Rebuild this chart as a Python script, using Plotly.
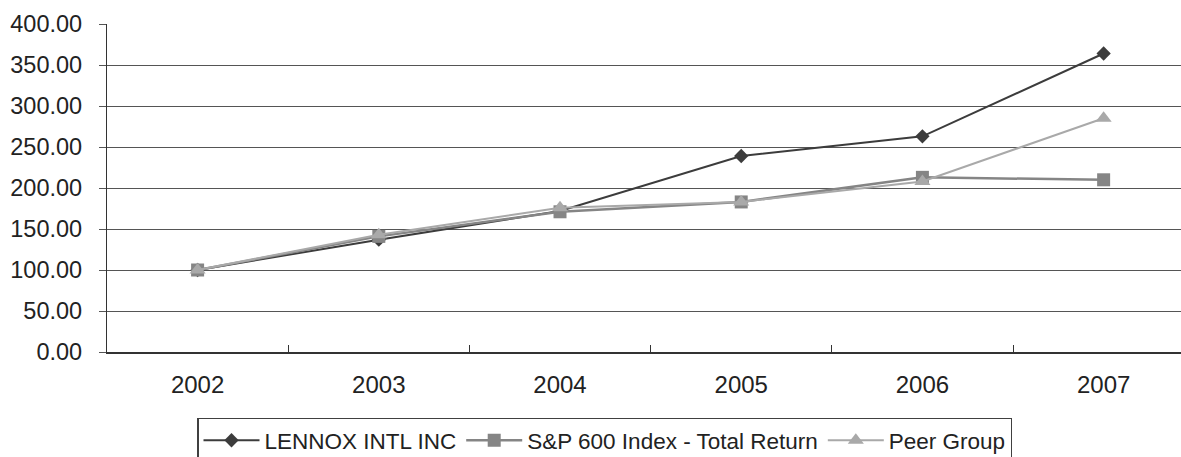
import plotly.graph_objects as go

# Cumulative total return, indexed to 100 in 2002
years = ["2002", "2003", "2004", "2005", "2006", "2007"]
lennox = [100.0, 137.0, 172.0, 239.0, 263.0, 364.0]
sp600 = [100.0, 141.0, 171.0, 183.0, 213.0, 210.0]
peer_group = [100.0, 143.0, 176.0, 183.0, 208.0, 285.0]

y_ticks = [0, 50, 100, 150, 200, 250, 300, 350, 400]

FONT = "Liberation Sans, Arial, sans-serif"

fig = go.Figure()

fig.add_trace(go.Scatter(
    x=years, y=lennox, name="LENNOX INTL INC", mode="lines+markers",
    line=dict(color="#3c3c3c", width=2),
    marker=dict(symbol="diamond", size=11, color="#3c3c3c"),
))
fig.add_trace(go.Scatter(
    x=years, y=sp600, name="S&P 600 Index - Total Return", mode="lines+markers",
    line=dict(color="#858585", width=2.5),
    marker=dict(symbol="square", size=13, color="#858585"),
))
fig.add_trace(go.Scatter(
    x=years, y=peer_group, name="Peer Group", mode="lines+markers",
    line=dict(color="#a9a9a9", width=2),
    marker=dict(symbol="triangle-up", size=14, color="#a9a9a9"),
))

fig.update_layout(
    width=1181, height=457,
    margin=dict(l=107, r=0, t=24, b=105, autoexpand=False),
    paper_bgcolor="white", plot_bgcolor="white",
    font=dict(family=FONT, size=23, color="#222222"),
    showlegend=True,
    legend=dict(
        orientation="h", x=0.0838, y=-0.2, xanchor="left", yanchor="top",
        bordercolor="#404040", borderwidth=1.5, bgcolor="white",
        font=dict(family=FONT, size=22.5, color="#222222"),
        itemwidth=56,
    ),
)

fig.update_xaxes(
    type="category", range=[-0.5, 5.427],
    showgrid=False, zeroline=False,
    showline=True, linecolor="#333333", linewidth=2,
    ticks="inside", tickson="boundaries", ticklen=7, tickcolor="#333333", tickwidth=1,
    tickfont=dict(family=FONT, size=24, color="#222222"),
    ticklabelstandoff=10,
)
fig.update_yaxes(
    range=[0, 400], tickvals=y_ticks, tickformat=".2f",
    showgrid=True, gridcolor="#555555", gridwidth=1.3,
    zeroline=False,
    showline=True, linecolor="#333333", linewidth=1.3,
    ticks="outside", ticklen=7, tickcolor="#555555", tickwidth=1.3,
    tickfont=dict(family=FONT, size=23.5, color="#222222"),
    ticklabelstandoff=12,
)

fig.write_html("out.html")
